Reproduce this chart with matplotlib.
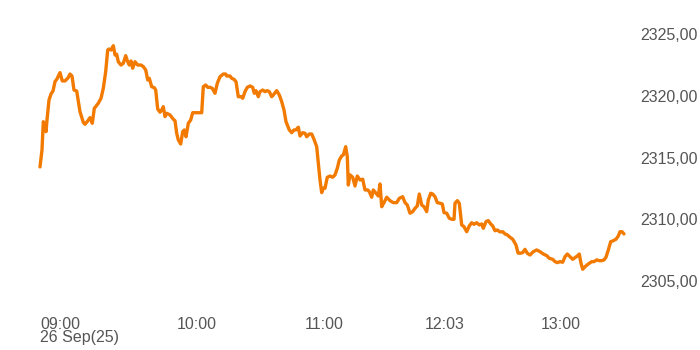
import matplotlib
matplotlib.use("Agg")
import matplotlib.pyplot as plt

# elapsed sample position along the session
t = [
    0, 2, 3.3, 5, 6, 7, 9, 11, 13, 15,
    17, 18, 20, 22.3, 25, 28, 30, 32, 34, 36.7,
    40, 43.3, 45, 47.7, 50, 52.3, 54.3, 55.7, 58.3, 61,
    63.3, 65.7, 67.7, 69, 71, 73.3, 75, 76.7, 78.3, 81,
    83.3, 85.7, 87.7, 89.3, 91, 92.7, 95, 97.7, 101, 103.3,
    105.7, 107.7, 109.3, 111.7, 114.3, 115.7, 117.7, 120, 121.7, 123.3,
    125, 126.7, 130, 133.3, 135, 136.7, 138.3, 140.7, 142.7, 144.3,
    146, 148.3, 150.7, 152.7, 161.7, 163.3, 165.7, 167.7, 170, 172.3,
    175, 177.3, 180, 183.3, 185.7, 186.7, 190, 191.7, 194, 196,
    198.3, 201, 202.7, 205, 207.3, 210, 212.7, 214.3, 216, 218.3,
    220, 222.7, 225, 227.3, 229.3, 231.7, 233.3, 236.7, 239.3, 241.7,
    244, 246, 249.3, 251.7, 254, 256, 258.3, 260, 262.7, 265,
    266.7, 269.3, 271.7, 274, 276.7, 278.3, 280, 281.7, 283.3, 285,
    287.3, 290, 292.7, 295, 297.3, 299.3, 301.7, 303.3, 305.7, 307.3,
    308.3, 310, 312.7, 315, 317.3, 320, 322.7, 325, 327.7, 329.3,
    331.7, 333.3, 336, 338.3, 340, 341.7, 344, 346.7, 350, 353.3,
    356.7, 359.3, 362.7, 365, 367.3, 370, 372.7, 375, 377.3, 379.3,
    381.7, 384, 386.7, 388.3, 390.7, 392.7, 395, 397.3, 400, 402.3,
    404, 406.7, 409.3, 411.7, 414, 415, 417.3, 419.3, 421.7, 424,
    426.7, 429.3, 431.7, 434, 436.7, 439.3, 441.7, 443.3, 446, 448.3,
    450.7, 452.7, 455, 457.3, 460, 462.7, 465, 467.3, 470, 472.7,
    476, 478, 480, 482.7, 485, 487.3, 490, 493.3, 496.7, 500,
    503.3, 506.7, 509.3, 512.7, 515, 517.3, 520, 522.7, 525, 527.3,
    530, 532.7, 535, 537.3, 539.3, 541, 542.7, 545, 548.3, 551.7,
    554, 556.7, 559.3, 561.7, 564, 566, 568.3, 570.7, 573.3, 576,
    578.3, 580, 582, 584,
]

price = [
    2314.25, 2315.63, 2317.92, 2317.57, 2317.11, 2318.06, 2319.68, 2320.17, 2320.41, 2321.17,
    2321.39, 2321.57, 2321.90, 2321.23, 2321.23, 2321.47, 2321.79, 2321.63, 2320.49, 2320.41,
    2318.73, 2317.87, 2317.71, 2317.98, 2318.25, 2317.79, 2319.01, 2319.14, 2319.42, 2319.82,
    2320.63, 2321.98, 2323.74, 2323.82, 2323.74, 2324.09, 2323.34, 2323.39, 2322.79, 2322.52,
    2322.66, 2323.28, 2322.79, 2322.52, 2322.85, 2322.26, 2322.79, 2322.52, 2322.52, 2322.39,
    2322.12, 2321.31, 2321.44, 2320.76, 2320.68, 2320.49, 2318.95, 2318.69, 2318.87, 2319.14,
    2318.33, 2318.60, 2318.47, 2318.12, 2318.00, 2316.98, 2316.44, 2316.11, 2317.11, 2317.25,
    2316.70, 2317.79, 2318.06, 2318.65, 2318.65, 2320.76, 2320.90, 2320.71, 2320.71, 2320.63,
    2320.23, 2321.04, 2321.57, 2321.79, 2321.79, 2321.63, 2321.63, 2321.44, 2321.36, 2321.17,
    2319.95, 2319.95, 2319.82, 2320.36, 2320.71, 2320.82, 2320.71, 2320.23, 2320.44, 2319.95,
    2320.36, 2320.49, 2320.36, 2320.44, 2320.36, 2319.95, 2320.09, 2320.44, 2320.09, 2319.55,
    2318.87, 2317.92, 2317.25, 2317.03, 2317.25, 2317.25, 2317.47, 2316.76, 2317.03, 2316.98,
    2316.70, 2316.92, 2316.92, 2316.49, 2315.89, 2314.55, 2313.19, 2312.16, 2312.52, 2312.52,
    2313.41, 2313.51, 2313.41, 2313.60, 2314.14, 2314.81, 2315.14, 2315.22, 2315.89, 2315.08,
    2312.78, 2313.60, 2313.41, 2312.70, 2313.51, 2313.19, 2313.25, 2312.38, 2312.38, 2312.24,
    2311.79, 2312.38, 2312.11, 2311.89, 2312.87, 2311.02, 2311.35, 2311.79, 2311.51, 2311.35,
    2311.35, 2311.70, 2311.83, 2311.35, 2311.16, 2310.49, 2310.62, 2310.89, 2311.08, 2312.05,
    2311.16, 2311.02, 2310.62, 2311.57, 2312.11, 2312.05, 2311.83, 2311.35, 2311.30, 2311.24,
    2310.54, 2310.49, 2310.08, 2310.00, 2310.00, 2311.30, 2311.51, 2311.30, 2309.54, 2309.40,
    2308.99, 2309.46, 2309.72, 2309.59, 2309.72, 2309.54, 2309.62, 2309.27, 2309.81, 2309.89,
    2309.62, 2309.46, 2309.07, 2309.13, 2308.97, 2308.99, 2308.81, 2308.73, 2308.54, 2308.38,
    2307.91, 2307.26, 2307.24, 2307.29, 2307.56, 2307.24, 2307.10, 2307.37, 2307.51, 2307.37,
    2307.18, 2307.05, 2306.83, 2306.75, 2306.56, 2306.48, 2306.56, 2306.51, 2306.96, 2307.18,
    2306.96, 2306.75, 2306.88, 2307.02, 2307.18, 2306.43, 2305.94, 2306.15, 2306.37, 2306.56,
    2306.56, 2306.70, 2306.64, 2306.64, 2306.70, 2306.92, 2307.51, 2308.18, 2308.26, 2308.38,
    2308.64, 2308.99, 2308.99, 2308.81,
]

tick_pos = [0, 137, 265, 385, 501]
tick_labels = ["09:00\n26 Sep(25)", "10:00", "11:00", "12:03", "13:00"]
y_ticks = [2305, 2310, 2315, 2320, 2325]
y_labels = ["2305,00", "2310,00", "2315,00", "2320,00", "2325,00"]

n = min(len(t), len(price))
t = t[:n]
price = price[:n]

W, H = 700, 350
fig = plt.figure(figsize=(7, 3.5), dpi=100)
fig.patch.set_facecolor("white")

x0_px, x1_px = 38, 630
top_px, bot_px = 16.0, 305.5
ax = fig.add_axes([x0_px / W, 1 - bot_px / H, (x1_px - x0_px) / W, (bot_px - top_px) / H])
ax.set_xlim(-2, 590)
ax.set_ylim(2303, 2326.5)

ax.plot(t, price, color="#f27a00", lw=2.4, solid_joinstyle="round", solid_capstyle="round")

for s in ax.spines.values():
    s.set_visible(False)
ax.set_facecolor("none")

font = "Liberation Sans"
ax.yaxis.tick_right()
ax.set_yticks(y_ticks)
ax.set_yticklabels(y_labels, fontsize=11.5, color="#555555", family=font)
ax.tick_params(axis="y", length=0, pad=7.5)

ax.set_xticks(tick_pos)
ax.set_xticklabels(tick_labels, fontsize=11.5, color="#555555", family=font, ha="left")
ax.tick_params(axis="x", length=0, pad=8)
for lbl in ax.get_xticklabels():
    lbl.set_linespacing(0.9)

fig.savefig("out.png", dpi=100, facecolor="white")
